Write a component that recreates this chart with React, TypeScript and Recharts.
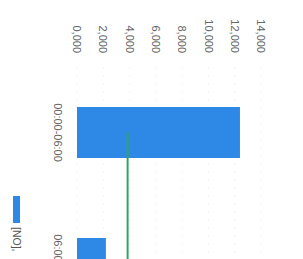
import { ComposedChart, Bar, Line, XAxis, YAxis, CartesianGrid } from 'recharts';

const categories = ['00:00-06:00', '06:00-12:00'];
const noValues = [12400, 2200];
const avgValues = [3850, 3850];
const yTicks = [0, 2000, 4000, 6000, 8000, 10000, 12000, 14000];
const legendLabel = '[NO],';

const data = categories.map((name, i) => ({ name, no: noValues[i], avg: avgValues[i] }));

const fmt = (v: number) => `${Math.floor(v / 1000)},${String(v % 1000).padStart(3, '0')}`;

export default function App() {
  return (
    <div style={{ position: 'fixed', left: 0, top: 0, width: 303, height: 259, overflow: 'hidden', background: '#fff', fontFamily: '"Liberation Sans", Arial, sans-serif' }}>
      {/* chart drawn upright, then turned a quarter clockwise like the photo */}
      <div style={{ position: 'absolute', left: 0, top: 0, width: 329, height: 303, transformOrigin: '0 0', transform: 'translateX(303px) rotate(90deg)' }}>
        <ComposedChart width={329} height={303} data={data} margin={{ top: 42, right: 0, bottom: 26, left: 0 }}>
          <CartesianGrid vertical={false} stroke="#f3f3f3" strokeDasharray="2 6" />
          <XAxis
            dataKey="name"
            axisLine={false}
            tickLine={false}
            height={51}
            tickMargin={9}
            interval={0}
            tick={{ fontSize: 11, fill: '#666' }}
          />
          <YAxis
            width={67}
            domain={[0, 14000]}
            ticks={yTicks}
            axisLine={false}
            tickLine={false}
            tickMargin={8}
            tickFormatter={fmt}
            tick={{ fontSize: 11, fill: '#666' }}
          />
          <Bar dataKey="no" name={legendLabel} fill="#2e89e6" barSize={51} isAnimationActive={false} />
          <Line dataKey="avg" stroke="#2ea36a" strokeWidth={2} dot={false} isAnimationActive={false} />
        </ComposedChart>
        <div style={{ position: 'absolute', left: 196, top: 279, display: 'flex', alignItems: 'center', height: 14, fontSize: 10.5, color: '#555', whiteSpace: 'nowrap' }}>
          <span style={{ display: 'inline-block', width: 27, height: 7, background: '#2e89e6', marginRight: 4 }} />
          <span>{legendLabel}</span>
        </div>
      </div>
    </div>
  );
}
